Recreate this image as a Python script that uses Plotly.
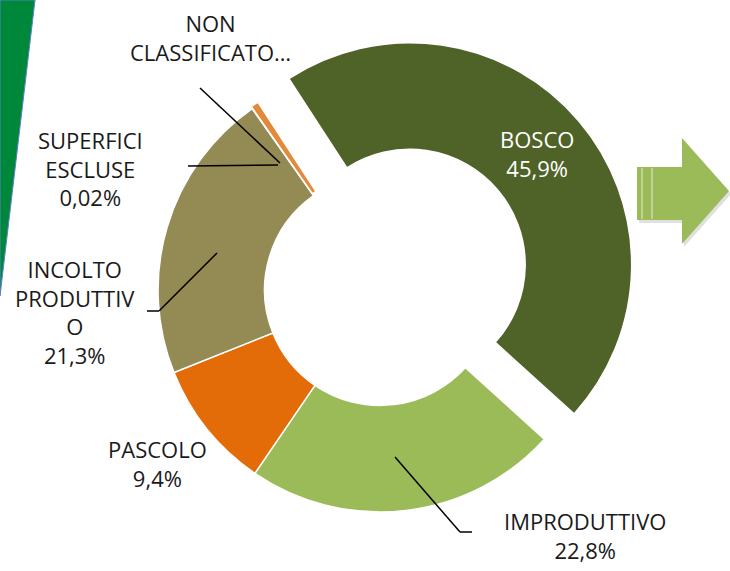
import plotly.graph_objects as go

W, H = 730, 571

# ---- data ----
categories = ["BOSCO", "IMPRODUTTIVO", "PASCOLO", "INCOLTO PRODUTTIVO",
              "SUPERFICI ESCLUSE", "NON CLASSIFICATO"]
shares = [45.9, 22.8, 9.4, 21.3, 0.02, 0.58]
share_labels = ["45,9%", "22,8%", "9,4%", "21,3%", "0,02%", ""]
label_text = ["BOSCO", "IMPRODUTTIVO", "PASCOLO", "INCOLTO<br>PRODUTTIV<br>O",
              "SUPERFICI<br>ESCLUSE", "NON<br>CLASSIFICATO…"]
colors = ["#4F6228", "#9BBB59", "#E36C09", "#948A54", "#E46C0A", "#E38A3A"]
pulls = [0.176, 0, 0, 0, 0, 0.01]


def px(x):
    return x / W


def py(y):
    return 1 - y / H


FONT = "Open Sans, sans-serif"

fig = go.Figure()
fig.add_trace(go.Pie(
    labels=categories,
    values=shares,
    sort=False,
    direction="clockwise",
    rotation=-33,
    hole=0.52,
    pull=pulls,
    marker=dict(colors=colors, line=dict(color="white", width=1.5)),
    textinfo="none",
    hoverinfo="label+percent",
    showlegend=False,
    domain=dict(x=[px(119), px(641)], y=[py(551), py(29)]),
))

shapes = []
# green band on the left
shapes.append(dict(type="path", xref="paper", yref="paper",
                   path=f"M {px(0)},{py(0)} L {px(35)},{py(0)} L {px(0)},{py(296)} Z",
                   fillcolor="#00883A", line=dict(color="#5B7FC8", width=1), layer="below"))
# striped arrow on the right (soft shadow + body)
arrow = [(637, 167), (682, 167), (682, 138), (729, 191), (682, 244), (682, 220), (637, 220)]
spath = "M " + " L ".join(f"{px(a + 2)},{py(b + 3)}" for a, b in arrow) + " Z"
shapes.append(dict(type="path", xref="paper", yref="paper", path=spath,
                   fillcolor="rgba(0,0,0,0.12)", line=dict(width=0), layer="above"))
path = "M " + " L ".join(f"{px(a)},{py(b)}" for a, b in arrow) + " Z"
shapes.append(dict(type="path", xref="paper", yref="paper", path=path,
                   fillcolor="#9BBB59", line=dict(width=0), layer="above"))
for sx in (642, 652):
    shapes.append(dict(type="line", xref="paper", yref="paper",
                       x0=px(sx), x1=px(sx), y0=py(168), y1=py(219),
                       line=dict(color="#D9E4C4", width=1.2), layer="above"))

# leader lines
leaders = [
    [(200, 88), (280, 163)],                 # non classificato
    [(188, 166), (278, 165)],                # superfici escluse
    [(147, 311), (159, 311), (217, 253)],    # incolto produttivo
    [(395, 457), (460, 532), (472, 532)],    # improduttivo
]
for pts in leaders:
    for (a, b), (c, d) in zip(pts[:-1], pts[1:]):
        shapes.append(dict(type="line", xref="paper", yref="paper",
                           x0=px(a), y0=py(b), x1=px(c), y1=py(d),
                           line=dict(color="black", width=1.5), layer="above"))

# labels
label_pos = {
    "BOSCO": (537, 153, "white"),
    "IMPRODUTTIVO": (585, 535, "#1a1a1a"),
    "PASCOLO": (157, 463, "#1a1a1a"),
    "INCOLTO PRODUTTIVO": (75, 312, "#1a1a1a"),
    "SUPERFICI ESCLUSE": (90, 168, "#1a1a1a"),
    "NON CLASSIFICATO": (211, 38, "#1a1a1a"),
}
annotations = []
for cat, txt, val in zip(categories, label_text, share_labels):
    x, y, col = label_pos[cat]
    text = txt + ("<br>" + val if val else "")
    annotations.append(dict(x=px(x), y=py(y), xref="paper", yref="paper",
                            text=text, showarrow=False, xanchor="center", yanchor="middle",
                            align="center", font=dict(family=FONT, size=22, color=col)))

fig.update_layout(
    width=W, height=H,
    margin=dict(l=0, r=0, t=0, b=0),
    paper_bgcolor="white", plot_bgcolor="white",
    shapes=shapes, annotations=annotations,
)

fig.write_html("out.html", config={"displayModeBar": False},
               post_script="document.body.style.margin='0';")
